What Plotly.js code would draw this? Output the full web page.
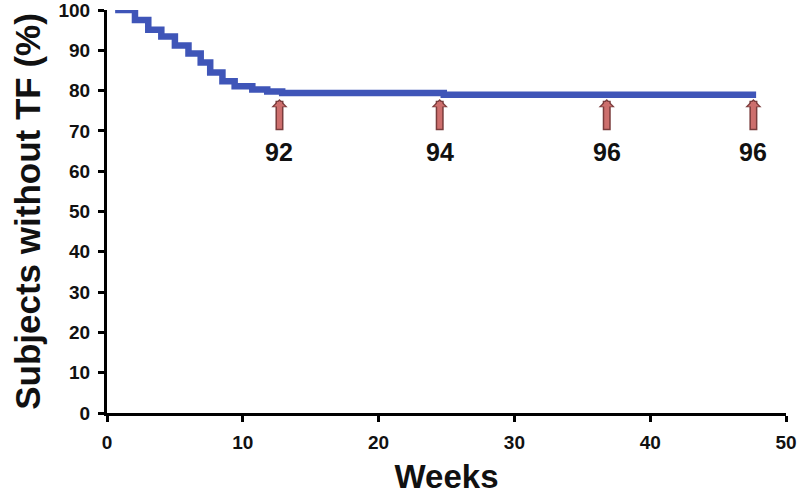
<!DOCTYPE html>
<html>
<head>
<meta charset="utf-8">
<script src="https://cdn.plot.ly/plotly-3.0.1.min.js"></script>
<style>html,body{margin:0;padding:0;background:#fff;}#chart{width:799px;height:502px;}</style>
</head>
<body>
<div id="chart"></div>
<script>
// Kaplan-Meier style step curve (weeks, % subjects without TF)
const weeks = [0.6, 2.06, 3.04, 4.0, 5.0, 6.0, 6.9, 7.6, 8.5, 9.4, 10.7, 11.8, 12.9, 24.8, 47.8];
const pctWithoutTF = [100, 97.5, 95.1, 93.4, 91.2, 89.2, 87.0, 84.5, 82.3, 81.1, 80.3, 79.8, 79.4, 79.0, 79.0];
// Numbers at risk markers
const riskWeeks = [12.7, 24.5, 36.8, 47.6];
const riskLabels = ["92", "94", "96", "96"];
const xTicks = [0, 10, 20, 30, 40, 50];
const yTicks = [0, 10, 20, 30, 40, 50, 60, 70, 80, 90, 100];

const arrowTipY = 77.9, arrowTailY = 69.8, labelY = 64.8;
const FONT = 'Liberation Sans, Arial, sans-serif';

const annotations = [];
riskWeeks.forEach((w, i) => {
  annotations.push({x: w, y: arrowTipY, xref: 'x', yref: 'y', ax: w, ay: arrowTailY, axref: 'x', ayref: 'y',
    text: '', showarrow: true, arrowhead: 1, arrowsize: 0.34, arrowwidth: 8, arrowcolor: '#7a3c3c', standoff: 0});
  annotations.push({x: w, y: arrowTipY - 0.45, xref: 'x', yref: 'y', ax: w, ay: arrowTailY + 0.35, axref: 'x', ayref: 'y',
    text: '', showarrow: true, arrowhead: 1, arrowsize: 0.38, arrowwidth: 5, arrowcolor: '#cd6f6d', standoff: 0});
  annotations.push({x: w, y: labelY, xref: 'x', yref: 'y', text: '<b>' + riskLabels[i] + '</b>', showarrow: false,
    font: {family: FONT, size: 25, color: '#111'}});
});

const trace = {
  x: weeks, y: pctWithoutTF, type: 'scatter', mode: 'lines',
  line: {shape: 'hv', color: '#3f55b8', width: 6.5},
  cliponaxis: false, hoverinfo: 'skip'
};

const axisFont = {family: FONT, size: 19, color: '#111'};
const layout = {
  width: 799, height: 502,
  margin: {l: 107, r: 13, t: 10, b: 89},
  paper_bgcolor: '#fff', plot_bgcolor: '#fff',
  showlegend: false,
  xaxis: {
    range: [0, 50], tickvals: xTicks, ticktext: xTicks.map(v => '<b>' + v + '</b>'),
    showline: true, linecolor: '#000', linewidth: 3, ticks: 'outside', ticklen: 6, tickwidth: 3, tickcolor: '#000',
    showgrid: false, zeroline: false, tickfont: axisFont, ticklabelstandoff: 4, ticklabeloverflow: 'allow',
    title: {text: '<b>Weeks</b>', font: {family: FONT, size: 33, color: '#111'}, standoff: 14}
  },
  yaxis: {
    range: [0, 100], tickvals: yTicks, ticktext: yTicks.map(v => '<b>' + v + '</b>'),
    showline: true, linecolor: '#000', linewidth: 3, ticks: 'outside', ticklen: 6, tickwidth: 3, tickcolor: '#000',
    showgrid: false, zeroline: false, tickfont: axisFont, ticklabelstandoff: 4, ticklabeloverflow: 'allow',
    title: {text: '<b>Subjects without TF (%)</b>', font: {family: FONT, size: 35, color: '#111'}, standoff: 8}
  },
  annotations: annotations
};

Plotly.newPlot('chart', [trace], layout, {staticPlot: true, displayModeBar: false});
</script>
</body>
</html>
